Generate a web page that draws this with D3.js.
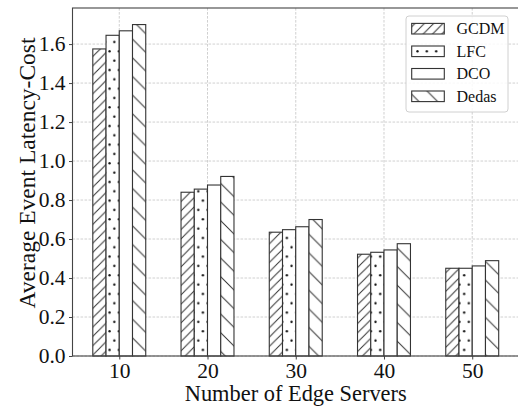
<!DOCTYPE html>
<html>
<head>
<meta charset="utf-8">
<script src="https://cdn.jsdelivr.net/npm/d3@7"></script>
<style>
  html, body { margin: 0; padding: 0; background: #fff; }
  svg { display: block; }
  svg text { font-family: "Liberation Serif", "Times New Roman", serif; }
</style>
</head>
<body>
<svg id="chart" width="518" height="406"></svg>
<script>
// Average event latency-cost per method, by number of edge servers
const categories = ["10", "20", "30", "40", "50"];
const seriesNames = ["GCDM", "LFC", "DCO", "Dedas"];
const gcdmValues  = [1.575, 0.840, 0.635, 0.522, 0.450];
const lfcValues   = [1.645, 0.856, 0.648, 0.532, 0.450];
const dcoValues   = [1.668, 0.877, 0.663, 0.544, 0.462];
const dedasValues = [1.700, 0.921, 0.700, 0.576, 0.489];
const yTickValues = [0.0, 0.2, 0.4, 0.6, 0.8, 1.0, 1.2, 1.4, 1.6];
const xAxisTitle = "Number of Edge Servers";
const yAxisTitle = "Average Event Latency-Cost";

const seriesValues = [gcdmValues, lfcValues, dcoValues, dedasValues];
const hatchIds = ["hatch-fwd", "hatch-dots", "hatch-none", "hatch-back"];

const svg = d3.select("#chart");
const plotL = 72.5, plotR = 519, plotT = 8, plotB = 356;
const barUnit = 0.15;
const serif = '"Liberation Serif", "Times New Roman", serif';

const x = d3.scaleLinear().domain([-0.53, 4.53]).range([plotL, plotR]);
const y = d3.scaleLinear().domain([0, 1.785]).range([plotB, plotT]);

const ink = "#333";
const spineColor = "#444";

// Hatch patterns
const defs = svg.append("defs");
const sFine = 9.33, sCoarse = 18.67;

const pf = defs.append("pattern").attr("id", "hatch-fwd")
  .attr("patternUnits", "userSpaceOnUse").attr("width", sFine).attr("height", sFine);
pf.append("rect").attr("width", sFine).attr("height", sFine).attr("fill", "#fff");
pf.append("path")
  .attr("d", `M0,${sFine} L${sFine},0 M${-sFine/4},${sFine/4} L${sFine/4},${-sFine/4} M${3*sFine/4},${5*sFine/4} L${5*sFine/4},${3*sFine/4}`)
  .attr("stroke", ink).attr("stroke-width", 1);

const pb = defs.append("pattern").attr("id", "hatch-back")
  .attr("patternUnits", "userSpaceOnUse").attr("width", sCoarse).attr("height", sCoarse);
pb.append("rect").attr("width", sCoarse).attr("height", sCoarse).attr("fill", "#fff");
pb.append("path")
  .attr("d", `M0,0 L${sCoarse},${sCoarse} M${-sCoarse/4},${3*sCoarse/4} L${sCoarse/4},${5*sCoarse/4} M${3*sCoarse/4},${-sCoarse/4} L${5*sCoarse/4},${sCoarse/4}`)
  .attr("stroke", ink).attr("stroke-width", 1);

const pd = defs.append("pattern").attr("id", "hatch-dots")
  .attr("patternUnits", "userSpaceOnUse").attr("width", sFine).attr("height", sFine * 2);
pd.append("rect").attr("width", sFine).attr("height", sFine * 2).attr("fill", "#fff");
pd.append("circle").attr("cx", sFine * 0.25).attr("cy", sFine * 0.5).attr("r", 1.15).attr("fill", "#111");
pd.append("circle").attr("cx", sFine * 0.75).attr("cy", sFine * 1.5).attr("r", 1.15).attr("fill", "#111");

const pn = defs.append("pattern").attr("id", "hatch-none")
  .attr("patternUnits", "userSpaceOnUse").attr("width", 10).attr("height", 10);
pn.append("rect").attr("width", 10).attr("height", 10).attr("fill", "#fff");

// Grid
const grid = svg.append("g").attr("stroke", "#c4c4c4").attr("stroke-width", 0.8)
  .attr("stroke-dasharray", "2.6,1.4");
grid.selectAll("line.gy").data(yTickValues).join("line").attr("class", "gy")
  .attr("x1", plotL).attr("x2", plotR).attr("y1", d => y(d)).attr("y2", d => y(d));
grid.selectAll("line.gx").data(categories.map((c, i) => i)).join("line").attr("class", "gx")
  .attr("x1", d => x(d)).attr("x2", d => x(d)).attr("y1", plotT).attr("y2", plotB);

// Bars
const barW = x(barUnit) - x(0);
const bars = svg.append("g");
seriesValues.forEach((vals, j) => {
  bars.append("g").selectAll("rect").data(vals).join("rect")
    .attr("x", (d, i) => x(i + (j - 2) * barUnit))
    .attr("y", d => y(d))
    .attr("width", barW)
    .attr("height", d => y(0) - y(d))
    .attr("fill", `url(#${hatchIds[j]})`)
    .attr("stroke", ink).attr("stroke-width", 1.1);
});

// Axes
const tickFont = 21.5;
const yAxis = svg.append("g").attr("transform", `translate(${plotL},0)`)
  .call(d3.axisLeft(y).tickValues(yTickValues).tickFormat(d3.format(".1f")).tickSize(3.5).tickPadding(3.5));
const xAxis = svg.append("g").attr("transform", `translate(0,${plotB})`)
  .call(d3.axisBottom(x).tickValues(categories.map((c, i) => i)).tickFormat(i => categories[i]).tickSize(3.5).tickPadding(3.0));
[xAxis, yAxis].forEach(g => {
  g.attr("font-family", serif).attr("font-size", tickFont);
  g.select(".domain").remove();
  g.selectAll(".tick line").attr("stroke", spineColor).attr("stroke-width", 1);
  g.selectAll(".tick text").attr("fill", "#111")
    .attr("font-family", serif).attr("font-size", tickFont);
});

// Spines
svg.append("rect").attr("x", plotL).attr("y", plotT).attr("width", plotR - plotL).attr("height", plotB - plotT)
  .attr("fill", "none").attr("stroke", spineColor).attr("stroke-width", 1.1);

// Axis titles
svg.append("text").attr("x", (plotL + plotR) / 2).attr("y", 400.5)
  .attr("text-anchor", "middle").attr("fill", "#111")
  .attr("font-family", serif).attr("font-size", 22.4)
  .text(xAxisTitle);
svg.append("text").attr("transform", `translate(35,173) rotate(-90)`)
  .attr("text-anchor", "middle").attr("fill", "#111")
  .attr("font-family", serif).attr("font-size", 23.5)
  .text(yAxisTitle);

// Legend
const legend = svg.append("g");
legend.append("rect").attr("x", 406).attr("y", 16).attr("width", 102).attr("height", 96)
  .attr("rx", 3).attr("fill", "#fff").attr("fill-opacity", 0.85)
  .attr("stroke", "#d0d0d0").attr("stroke-width", 1);
const rowY = [28.7, 51.3, 73.8, 96.3];
seriesNames.forEach((name, j) => {
  legend.append("rect").attr("x", 411.7).attr("y", rowY[j] - 5.3).attr("width", 32.6).attr("height", 10.6)
    .attr("fill", `url(#${hatchIds[j]})`).attr("stroke", ink).attr("stroke-width", 1.1);
  legend.append("text").attr("x", 456.5).attr("y", rowY[j] + 5.6)
    .attr("fill", "#111").attr("font-family", serif).attr("font-size", 16).text(name);
});
</script>
</body>
</html>
